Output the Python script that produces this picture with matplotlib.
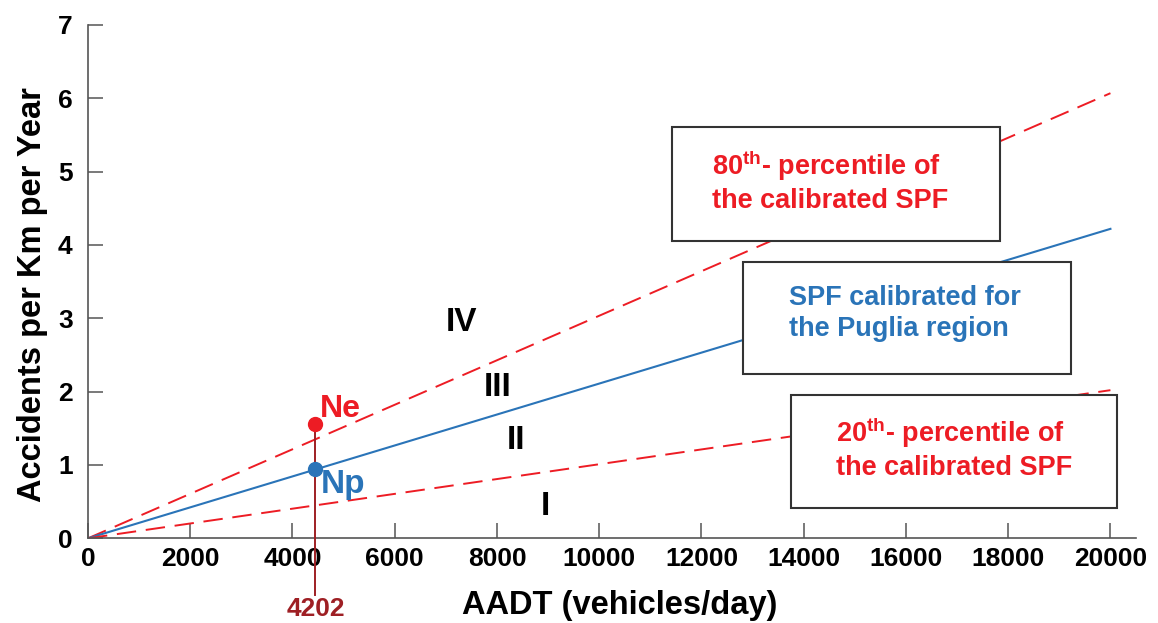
import matplotlib
matplotlib.use('Agg')
import matplotlib.pyplot as plt
from matplotlib.patches import Rectangle

# data
aadt = [0, 20000]
spf_puglia = [0, 4.22]
p80 = [0, 6.07]
p20 = [0, 2.02]

site_aadt = 4450
site_label = '4202'
ne_value = 1.555
np_value = 0.94

regions = ['IV', 'III', 'II', 'I']
region_x = [7300, 8020, 8380, 8940]
region_y = [2.94, 2.05, 1.33, 0.44]

x_ticks = [0, 2000, 4000, 6000, 8000, 10000, 12000, 14000, 16000, 18000, 20000]
y_ticks = [0, 1, 2, 3, 4, 5, 6, 7]

red = '#ED1C24'
blue = '#2A74B8'
darkred = '#9E1F24'

plt.rcParams['font.family'] = 'Liberation Sans'
plt.rcParams['font.weight'] = 'bold'
plt.rcParams['mathtext.fontset'] = 'custom'
plt.rcParams['mathtext.rm'] = 'Liberation Sans:bold'
plt.rcParams['mathtext.bf'] = 'Liberation Sans:bold'

fig = plt.figure(figsize=(11.58, 6.23), dpi=100)
ax = fig.add_axes([88 / 1158, (623 - 538.3) / 623, 1048 / 1158, 513.3 / 623])

ax.plot(aadt, p80, color=red, lw=1.4, dashes=(10, 5), zorder=2)
ax.plot(aadt, spf_puglia, color=blue, lw=1.5, zorder=2)
ax.plot(aadt, p20, color=red, lw=1.4, dashes=(10, 5), zorder=2)

# vertical line at the site AADT, going below the axis
ax.plot([site_aadt, site_aadt], [ne_value, -0.78], color=darkred, lw=1.4,
        clip_on=False, zorder=3)
ax.text(site_aadt, -0.80, site_label, color=darkred, fontsize=19,
        fontweight='bold', ha='center', va='top')

ax.plot(site_aadt, ne_value, 'o', color=red, ms=10, zorder=4, clip_on=False)
ax.plot(site_aadt, np_value, 'o', color=blue, ms=10, zorder=4, clip_on=False)
ax.annotate('Ne', (site_aadt, ne_value), xytext=(3, 11), textcoords='offset points',
            color=red, fontsize=23, fontweight='bold', va='center', ha='left')
ax.annotate('Np', (site_aadt, np_value), xytext=(4, -11), textcoords='offset points',
            color=blue, fontsize=24, fontweight='bold', va='center', ha='left')

for lab, xx, yy in zip(regions, region_x, region_y):
    ax.text(xx, yy, lab, fontsize=24, fontweight='bold', ha='center', va='center')

# boxes (axes fraction)
boxes = [
    (0.557, 0.579, 0.313, 0.222, 0.595, 0.695, '80$^{\\mathrm{th}}$- percentile of\nthe calibrated SPF', red),
    (0.625, 0.320, 0.313, 0.218, 0.669, 0.437, 'SPF calibrated for\nthe Puglia region', blue),
    (0.671, 0.059, 0.311, 0.220, 0.714, 0.175, '20$^{\\mathrm{th}}$- percentile of\nthe calibrated SPF', red),
]
for x0, y0, w, h, tx, ty, txt, col in boxes:
    ax.add_patch(Rectangle((x0, y0), w, h, transform=ax.transAxes, facecolor='white',
                           edgecolor='#333333', lw=1.5, zorder=5))
    ax.text(tx, ty, txt, transform=ax.transAxes, color=col, fontsize=19.5,
            fontweight='bold', ha='left', va='center', linespacing=1.25, zorder=6)

ax.set_xlim(0, 20500)
ax.set_ylim(0, 7)
ax.set_xticks(x_ticks)
ax.set_yticks(y_ticks)
ax.tick_params(direction='in', length=11, width=1.1, color='#555555', labelsize=19)
ax.tick_params(axis='x', pad=6)
ax.tick_params(axis='y', pad=11)
for lab in ax.get_xticklabels() + ax.get_yticklabels():
    lab.set_fontweight('bold')
ax.spines['top'].set_visible(False)
ax.spines['right'].set_visible(False)
for s in ['left', 'bottom']:
    ax.spines[s].set_color('#555555')
    ax.spines[s].set_linewidth(1.2)

ax.set_xlabel('AADT (vehicles/day)', fontsize=23.5, fontweight='bold')
ax.set_ylabel('Accidents per Km per Year', fontsize=23.5, fontweight='bold')
ax.xaxis.set_label_coords(0.507, -0.100)
ax.yaxis.set_label_coords(-0.038, 0.474)

fig.savefig('out.png', dpi=100)
